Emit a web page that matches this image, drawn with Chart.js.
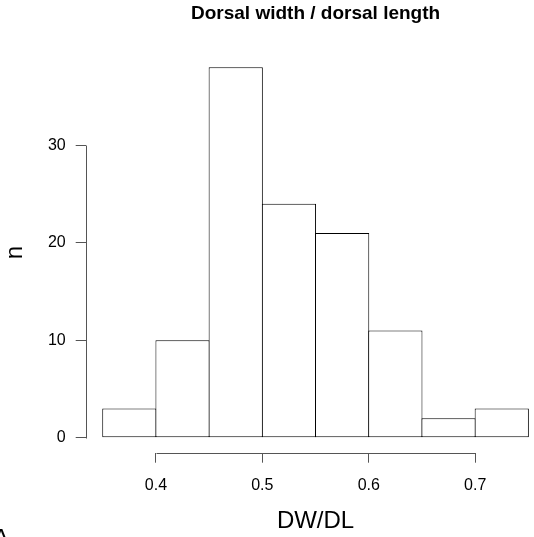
<!DOCTYPE html>
<html>
<head>
<meta charset="utf-8">
<script src="https://cdn.jsdelivr.net/npm/chart.js@4"></script>
<style>
  html, body { margin: 0; padding: 0; background: #fff; overflow: hidden; }
  #wrap { position: relative; width: 560px; height: 537px; }
</style>
</head>
<body>
<div id="wrap"><canvas id="hist"></canvas></div>
<script>
// histogram of DW/DL, bin width 0.05
const binCenters = [0.375, 0.425, 0.475, 0.525, 0.575, 0.625, 0.675, 0.725];
const counts = [3, 10, 38, 24, 21, 11, 2, 3];
const xTicks = [0.4, 0.5, 0.6, 0.7];
const yTicks = [0, 10, 20, 30];

const AXIS_COLOR = "#555";
Chart.defaults.font.family = "'Liberation Sans', Arial, sans-serif";
Chart.defaults.color = "#000";

// R style axes: the line runs only from first to last tick
const rAxes = {
  id: "rAxes",
  afterDraw(chart) {
    const { ctx, chartArea, scales } = chart;
    const crisp = (v) => Math.round(v) + 0.5;
    ctx.save();
    ctx.strokeStyle = AXIS_COLOR;
    ctx.lineWidth = 1;
    ctx.beginPath();
    const yb = crisp(chartArea.bottom);
    ctx.moveTo(crisp(scales.x.getPixelForValue(xTicks[0])), yb);
    ctx.lineTo(crisp(scales.x.getPixelForValue(xTicks[xTicks.length - 1])), yb);
    const xl = crisp(chartArea.left);
    ctx.moveTo(xl, crisp(scales.y.getPixelForValue(yTicks[0])));
    ctx.lineTo(xl, crisp(scales.y.getPixelForValue(yTicks[yTicks.length - 1])));
    ctx.stroke();
    // panel letter, mostly cut off at the corner
    ctx.fillStyle = "#000";
    ctx.font = "24px 'Liberation Sans', Arial, sans-serif";
    ctx.textAlign = "center";
    ctx.textBaseline = "alphabetic";
    ctx.fillText("A", 1, 546);
    ctx.restore();
  }
};

const fixTicks = (list) => (scale) => { scale.ticks = list.map(v => ({ value: v })); };

new Chart(document.getElementById("hist").getContext("2d"), {
  type: "bar",
  data: {
    datasets: [{
      data: binCenters.map((x, i) => ({ x, y: counts[i] })),
      backgroundColor: "#fff",
      borderColor: "#000",
      borderWidth: 1,
      borderSkipped: false,
      inflateAmount: 0,
      barPercentage: 1 + 1 / 53.2, // overlap 1px so shared edges are single lines
      categoryPercentage: 1
    }]
  },
  options: {
    responsive: true,
    maintainAspectRatio: false,
    animation: false,
    events: [],
    layout: { padding: { left: 0, right: 14.6, top: 0, bottom: 0 } },
    plugins: {
      legend: { display: false },
      tooltip: { enabled: false },
      title: {
        display: true,
        fullSize: false,
        text: "Dorsal width / dorsal length",
        font: { size: 19, weight: "bold", lineHeight: 1.2 },
        padding: { top: 2.5, bottom: 27 },
        color: "#000"
      }
    },
    scales: {
      x: {
        type: "linear",
        offset: false,
        min: 0.334,
        max: 0.766,
        afterBuildTicks: fixTicks(xTicks),
        afterFit: (s) => { s.height = 84.3; },
        border: { display: false },
        grid: { offset: false, drawOnChartArea: false, drawTicks: true, tickLength: 10, color: AXIS_COLOR },
        ticks: { font: { size: 16 }, padding: 13, maxRotation: 0, callback: (v) => v.toFixed(1) },
        title: { display: true, text: "DW/DL", font: { size: 24, lineHeight: 1.2 }, padding: { top: 1, bottom: 1 } }
      },
      y: {
        min: -1.52,
        max: 39.52,
        afterBuildTicks: fixTicks(yTicks),
        afterFit: (s) => { s.width = 85.7; },
        border: { display: false },
        grid: { drawOnChartArea: false, drawTicks: true, tickLength: 10, color: AXIS_COLOR },
        ticks: { font: { size: 16 }, padding: 10 },
        title: { display: true, text: "n", font: { size: 24, lineHeight: 1 }, padding: { top: 3, bottom: 3 } }
      }
    }
  },
  plugins: [rAxes]
});
</script>
</body>
</html>
